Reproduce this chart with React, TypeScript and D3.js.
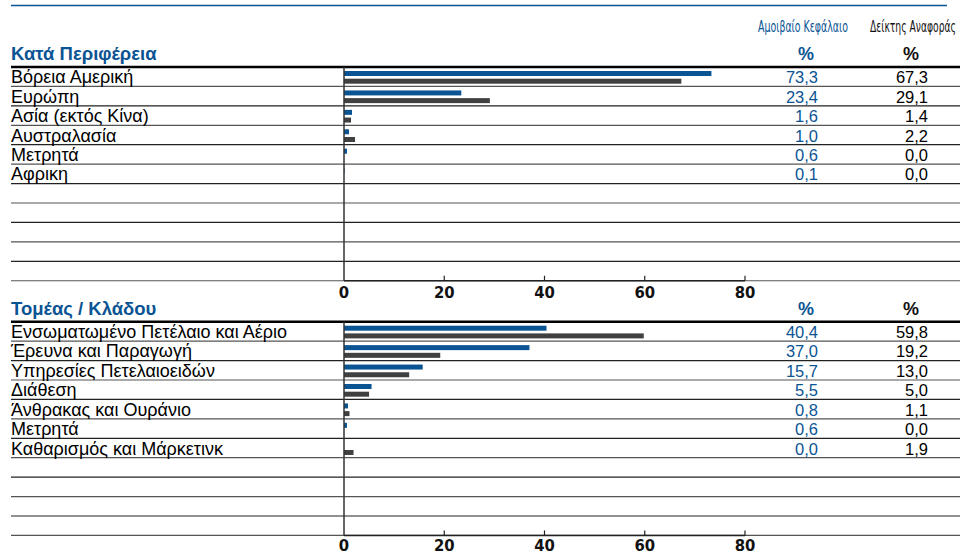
import React, { useEffect, useRef } from 'react';
import * as d3 from 'd3';

// Κατά Περιφέρεια
const regionLabels = ['Βόρεια Αμερική', 'Ευρώπη', 'Ασία (εκτός Κίνα)', 'Αυστραλασία', 'Μετρητά', 'Αφρικη'];
const regionFund = [73.3, 23.4, 1.6, 1.0, 0.6, 0.1];
const regionIndex = [67.3, 29.1, 1.4, 2.2, 0.0, 0.0];

// Τομέας / Κλάδου
const sectorLabels = [
  'Ενσωματωμένο Πετέλαιο και Αέριο',
  'Έρευνα και Παραγωγή',
  'Υπηρεσίες Πετελαιοειδών',
  'Διάθεση',
  'Άνθρακας και Ουράνιο',
  'Μετρητά',
  'Καθαρισμός και Μάρκετινκ',
];
const sectorFund = [40.4, 37.0, 15.7, 5.5, 0.8, 0.6, 0.0];
const sectorIndex = [59.8, 19.2, 13.0, 5.0, 1.1, 0.0, 1.9];

const xTicks = [0, 20, 40, 60, 80];
const ROWS = 11;

const BLUE = '#0b5494';
const GREY = '#404040';
const LABEL_FONT = '"Liberation Sans", Arial, sans-serif';
const NARROW_FONT = '"DejaVu Sans Condensed", "DejaVu Sans", sans-serif';

const fmt = (v: number) => v.toFixed(1).replace('.', ',');

const App: React.FC = () => {
  const svgRef = useRef<SVGSVGElement>(null);

  useEffect(() => {
    if (!svgRef.current) return;
    const svg = d3.select(svgRef.current);
    svg.selectAll('*').remove();

    const width = 960;
    const left = 11;
    const x = d3.scaleLinear().domain([0, 80]).range([344, 745]);
    const fundRight = 818;
    const indexRight = 928;

    // ligne bleue du titre (coupé en haut)
    svg.append('line')
      .attr('x1', left).attr('x2', 947)
      .attr('y1', 5.5).attr('y2', 5.5)
      .attr('stroke', BLUE).attr('stroke-width', 1.5);

    // en-têtes des colonnes
    svg.append('text')
      .attr('x', 803).attr('y', 32)
      .attr('text-anchor', 'middle')
      .attr('fill', BLUE)
      .attr('font-family', NARROW_FONT)
      .attr('font-size', 15)
      .attr('textLength', 90)
      .attr('lengthAdjust', 'spacingAndGlyphs')
      .text('Αμοιβαίο Κεφάλαιο');
    svg.append('text')
      .attr('x', 913).attr('y', 32)
      .attr('text-anchor', 'middle')
      .attr('fill', '#111')
      .attr('font-family', NARROW_FONT)
      .attr('font-size', 15)
      .attr('textLength', 86)
      .attr('lengthAdjust', 'spacingAndGlyphs')
      .text('Δείκτης Αναφοράς');

    const drawSection = (
      top: number,
      title: string,
      labels: string[],
      fund: number[],
      index: number[],
    ) => {
      const y = d3.scaleBand<number>()
        .domain(d3.range(ROWS))
        .range([top, top + ROWS * 19.43])
        .padding(0);
      const bottom = top + ROWS * 19.43;
      const g = svg.append('g');

      // titre de section
      g.append('text')
        .attr('x', left).attr('y', top - 7)
        .attr('fill', BLUE)
        .attr('font-family', LABEL_FONT)
        .attr('font-weight', 'bold')
        .attr('font-size', 18.5)
        .text(title);

      // %
      g.append('text')
        .attr('x', 806).attr('y', top - 7)
        .attr('text-anchor', 'middle')
        .attr('fill', BLUE)
        .attr('font-family', LABEL_FONT)
        .attr('font-weight', 'bold')
        .attr('font-size', 18)
        .text('%');
      g.append('text')
        .attr('x', 911).attr('y', top - 7)
        .attr('text-anchor', 'middle')
        .attr('fill', '#111')
        .attr('font-family', LABEL_FONT)
        .attr('font-weight', 'bold')
        .attr('font-size', 18)
        .text('%');

      // lignes de séparation
      g.selectAll('.sep')
        .data(d3.range(ROWS))
        .enter()
        .append('line')
        .attr('class', 'sep')
        .attr('x1', left).attr('x2', width)
        .attr('y1', d => (y(d) as number) + y.bandwidth())
        .attr('y2', d => (y(d) as number) + y.bandwidth())
        .attr('stroke', (d, i) => (i % 2 === 0 ? '#555' : '#222'))
        .attr('stroke-width', 1.2);

      // ligne épaisse du haut
      g.append('line')
        .attr('x1', left).attr('x2', width)
        .attr('y1', top).attr('y2', top)
        .attr('stroke', '#000').attr('stroke-width', 2.5);

      // barres
      g.selectAll('.bar-fund')
        .data(fund)
        .enter()
        .append('rect')
        .attr('x', x(0))
        .attr('y', (d, i) => (y(i) as number) + 4)
        .attr('width', d => x(d) - x(0))
        .attr('height', 5)
        .attr('fill', BLUE);
      g.selectAll('.bar-index')
        .data(index)
        .enter()
        .append('rect')
        .attr('x', x(0))
        .attr('y', (d, i) => (y(i) as number) + 11.7)
        .attr('width', d => x(d) - x(0))
        .attr('height', 5)
        .attr('fill', GREY);

      // étiquettes
      g.selectAll('.lbl')
        .data(labels)
        .enter()
        .append('text')
        .attr('x', left)
        .attr('y', (d, i) => (y(i) as number) + 16.3)
        .attr('fill', '#000')
        .attr('font-family', LABEL_FONT)
        .attr('font-size', 18)
        .text(d => d);

      // valeurs
      g.selectAll('.vfund')
        .data(fund)
        .enter()
        .append('text')
        .attr('x', fundRight)
        .attr('y', (d, i) => (y(i) as number) + 16.3)
        .attr('text-anchor', 'end')
        .attr('fill', BLUE)
        .attr('font-family', LABEL_FONT)
        .attr('font-size', 16.5)
        .text(d => fmt(d));
      g.selectAll('.vindex')
        .data(index)
        .enter()
        .append('text')
        .attr('x', indexRight)
        .attr('y', (d, i) => (y(i) as number) + 16.3)
        .attr('text-anchor', 'end')
        .attr('fill', '#000')
        .attr('font-family', LABEL_FONT)
        .attr('font-size', 16.5)
        .text(d => fmt(d));

      // axe vertical
      g.append('line')
        .attr('x1', x(0)).attr('x2', x(0))
        .attr('y1', top).attr('y2', bottom)
        .attr('stroke', '#333').attr('stroke-width', 1.5);

      // axe horizontal
      g.append('line')
        .attr('x1', x(0)).attr('x2', x(80))
        .attr('y1', bottom).attr('y2', bottom)
        .attr('stroke', '#222').attr('stroke-width', 1.5);

      g.selectAll('.tick')
        .data(xTicks.slice(1))
        .enter()
        .append('line')
        .attr('x1', d => x(d)).attr('x2', d => x(d))
        .attr('y1', bottom).attr('y2', bottom - 5)
        .attr('stroke', '#222').attr('stroke-width', 1.2);

      g.selectAll('.tick-label')
        .data(xTicks)
        .enter()
        .append('text')
        .attr('x', d => x(d))
        .attr('y', Math.min(bottom + 17.5, 551))
        .attr('text-anchor', 'middle')
        .attr('fill', '#111')
        .attr('font-family', NARROW_FONT)
        .attr('font-weight', 'bold')
        .attr('font-size', 16.5)
        .text(d => d);
    };

    drawSection(67, 'Κατά Περιφέρεια', regionLabels, regionFund, regionIndex);
    drawSection(321.7, 'Τομέας / Κλάδου', sectorLabels, sectorFund, sectorIndex);
  }, []);

  return (
    <svg
      ref={svgRef}
      width={960}
      height={554}
      style={{ position: 'absolute', left: 0, top: 0, background: '#fff' }}
    />
  );
};

export default App;
